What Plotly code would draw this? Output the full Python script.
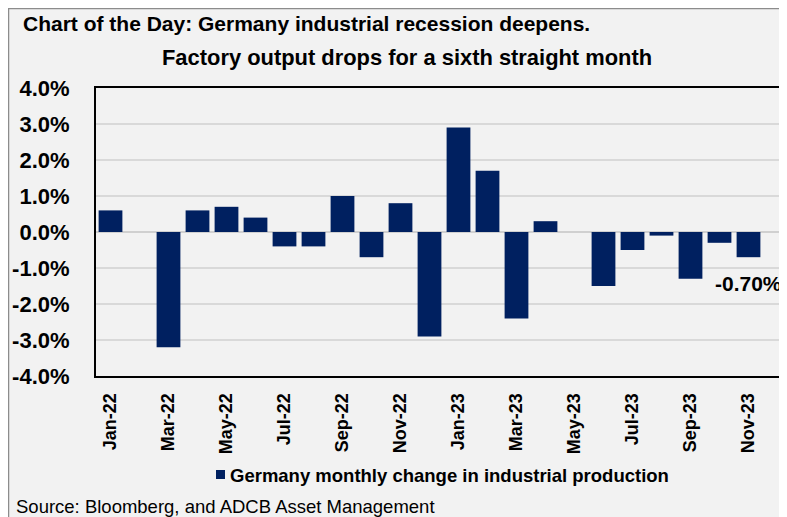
import plotly.graph_objects as go

months = ["Jan-22", "Feb-22", "Mar-22", "Apr-22", "May-22", "Jun-22", "Jul-22", "Aug-22",
          "Sep-22", "Oct-22", "Nov-22", "Dec-22", "Jan-23", "Feb-23", "Mar-23", "Apr-23",
          "May-23", "Jun-23", "Jul-23", "Aug-23", "Sep-23", "Oct-23", "Nov-23"]
ip_change = [0.6, 0.0, -3.2, 0.6, 0.7, 0.4, -0.4, -0.4, 1.0, -0.7, 0.8, -2.9,
             2.9, 1.7, -2.4, 0.3, 0.0, -1.5, -0.5, -0.1, -1.3, -0.3, -0.7]
tick_labels = ["Jan-22", "Mar-22", "May-22", "Jul-22", "Sep-22", "Nov-22",
               "Jan-23", "Mar-23", "May-23", "Jul-23", "Sep-23", "Nov-23"]
y_ticks = [4, 3, 2, 1, 0, -1, -2, -3, -4]
series_name = "Germany monthly change in industrial production"
title_text = "Chart of the Day: Germany industrial recession deepens."
subtitle_text = "Factory output drops for a sixth straight month"
source_text = "Source: Bloomberg, and ADCB Asset Management"

OFF = 8  # page body margin
W, H = 787 - OFF, 517 - OFF
ML, MR, MT, MB = 96 - OFF, 0, 88 - OFF, 517 - 376
PW = W - ML - MR
PH = H - MT - MB
FONT = "Arial, Liberation Sans, sans-serif"
NAVY = "#002060"


def px_x(x):
    return (x - OFF - ML) / PW


def px_y(y):
    return (H - MB - (y - OFF)) / PH


fig = go.Figure()
fig.add_trace(go.Bar(
    x=months, y=ip_change, name=series_name,
    marker=dict(color=NAVY, line=dict(width=0)),
    showlegend=False,
))

slot = 29.0
xmax = -0.5 + PW / slot

fig.update_layout(
    width=W, height=H,
    margin=dict(l=ML, r=MR, t=MT, b=MB, pad=0),
    paper_bgcolor="#f2f2f2",
    plot_bgcolor="#f2f2f2",
    bargap=0.18,
    font=dict(family=FONT, color="black"),
    xaxis=dict(
        type="category", range=[-0.5, xmax],
        tickvals=tick_labels, ticktext=tick_labels,
        tickangle=-90, ticks="", ticklabelstandoff=8,
        tickfont=dict(family=FONT, size=18, color="black", weight="bold"),
        showline=True, linecolor="black", linewidth=2, mirror=True,
        showgrid=False, zeroline=False,
    ),
    yaxis=dict(
        range=[-4, 4], tickvals=y_ticks,
        ticktext=[f"{v:.1f}%" for v in y_ticks],
        ticks="", ticklabelstandoff=20,
        tickfont=dict(family=FONT, size=22, color="black", weight="bold"),
        showline=True, linecolor="black", linewidth=2, mirror=False,
        showgrid=True, gridcolor="#d9d9d9", gridwidth=1.5,
        zeroline=True, zerolinecolor="#d0d0d0", zerolinewidth=1.5,
    ),
)

shapes = [
    # chart frame: left and top edges
    dict(type="line", xref="paper", yref="paper",
         x0=px_x(OFF + 0.5), x1=px_x(OFF + 0.5), y0=px_y(OFF), y1=px_y(OFF + H),
         line=dict(color="#8c8c8c", width=1.5)),
    dict(type="line", xref="paper", yref="paper",
         x0=px_x(OFF), x1=px_x(OFF + W), y0=px_y(OFF + 0.5), y1=px_y(OFF + 0.5),
         line=dict(color="#8c8c8c", width=1.5)),
    # legend marker
    dict(type="rect", xref="paper", yref="paper",
         x0=px_x(216), x1=px_x(225), y0=px_y(479), y1=px_y(470),
         fillcolor=NAVY, line=dict(width=0)),
]
fig.update_layout(shapes=shapes)

annotations = [
    dict(text=title_text, xref="paper", yref="paper", x=px_x(21), y=px_y(23),
         xanchor="left", yanchor="middle", showarrow=False,
         font=dict(family=FONT, size=21, color="black", weight="bold")),
    dict(text=subtitle_text, xref="paper", yref="paper", x=px_x(406.5), y=px_y(58),
         xanchor="center", yanchor="middle", showarrow=False,
         font=dict(family=FONT, size=21.9, color="black", weight="bold")),
    dict(text=series_name, xref="paper", yref="paper", x=px_x(228), y=px_y(475),
         xanchor="left", yanchor="middle", showarrow=False,
         font=dict(family=FONT, size=18.5, color="black", weight="bold")),
    dict(text=source_text, xref="paper", yref="paper", x=px_x(14), y=px_y(506),
         xanchor="left", yanchor="middle", showarrow=False,
         font=dict(family=FONT, size=18.5, color="black")),
    dict(text=f"{ip_change[-1]:.2f}%", xref="x", yref="y", x=months[-1], y=-1.42,
         xanchor="center", yanchor="middle", showarrow=False,
         font=dict(family=FONT, size=21, color="black", weight="bold")),
]
fig.update_layout(annotations=annotations)

fig.write_html("out.html")
